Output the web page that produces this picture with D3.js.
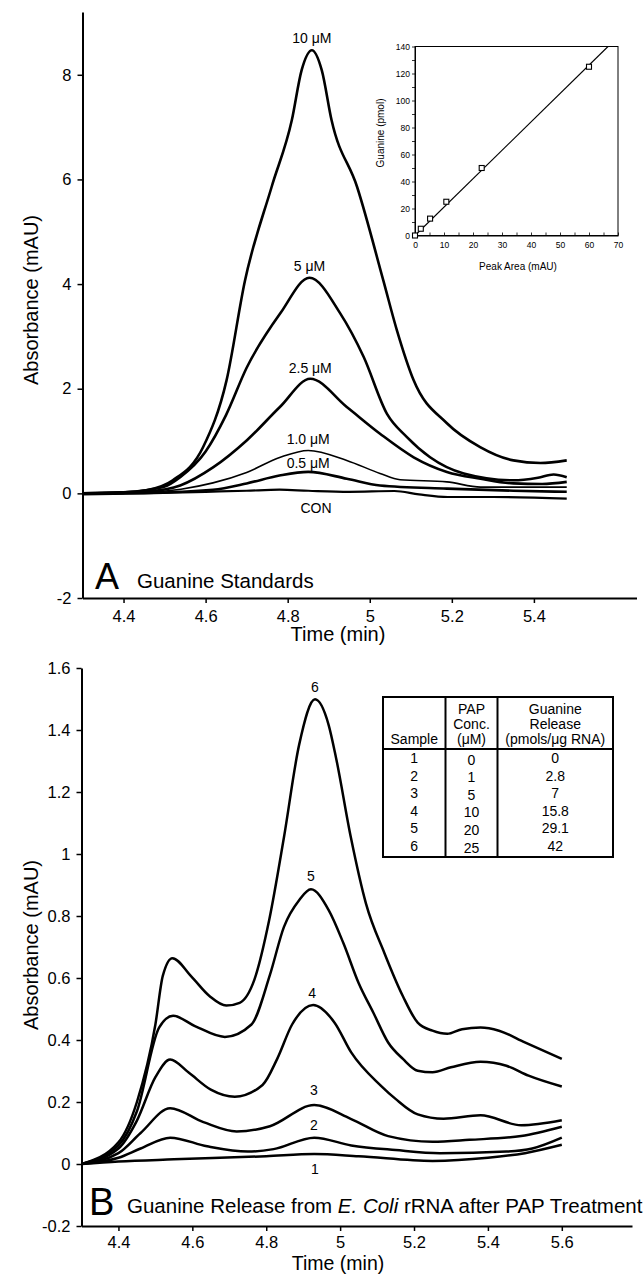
<!DOCTYPE html>
<html>
<head>
<meta charset="utf-8">
<script src="https://cdn.jsdelivr.net/npm/d3@7"></script>
<style>
  body { margin: 0; background: #fff; }
  svg { display: block; font-family: "Liberation Sans", Arial, Helvetica, sans-serif; }
</style>
</head>
<body>
<div id="chart"></div>
<script>
'use strict';

// ---- panel A: guanine standards, [time (min), absorbance (mAU)]
const std10 = [[4.30,0],[4.40,0.02],[4.456,0.06],[4.52,0.25],[4.594,0.885],[4.651,2.16],[4.696,4.07],[4.761,5.86],
  [4.81,7.13],[4.834,8.09],[4.859,8.47],[4.883,8.09],[4.907,7.13],[4.969,5.86],[5.033,4.07],[5.066,3.12],[5.107,2.16],
  [5.188,1.34],[5.269,0.885],[5.35,0.63],[5.416,0.58],[5.48,0.63]];
const std5 = [[4.30,0],[4.40,0.02],[4.497,0.12],[4.538,0.31],[4.60,0.80],[4.65,1.50],[4.70,2.40],[4.782,3.44],
  [4.853,4.12],[4.928,3.44],[4.985,2.61],[5.042,1.52],[5.09,1.08],[5.147,0.69],[5.229,0.38],[5.35,0.25],[5.41,0.30],
  [5.448,0.36],[5.48,0.31]];
const std2_5 = [[4.30,0],[4.40,0.01],[4.456,0.03],[4.538,0.15],[4.619,0.50],[4.70,1.01],[4.781,1.65],[4.855,2.19],
  [4.944,1.65],[5.025,1.14],[5.107,0.69],[5.188,0.41],[5.27,0.28],[5.35,0.19],[5.42,0.18],[5.48,0.22]];
const std1_0 = [[4.30,0],[4.45,0.02],[4.54,0.08],[4.618,0.20],[4.70,0.40],[4.782,0.69],[4.85,0.82],[4.944,0.63],
  [5.025,0.38],[5.074,0.26],[5.188,0.22],[5.27,0.12],[5.48,0.12]];
const std0_5 = [[4.30,0],[4.45,0.01],[4.618,0.07],[4.70,0.19],[4.78,0.34],[4.85,0.41],[4.944,0.28],[5.025,0.15],
  [5.188,0.09],[5.35,0.05],[5.48,0.03]];
const stdCon = [[4.30,-0.02],[4.45,0],[4.60,0.03],[4.70,0.05],[4.78,0.07],[4.85,0.05],[4.95,0.03],[5.06,0.045],
  [5.12,-0.02],[5.19,-0.07],[5.30,-0.07],[5.48,-0.10]];
const seriesA = [std10, std5, std2_5, std1_0, std0_5, stdCon];
const widthsA = [2.6, 2.6, 2.6, 1.6, 2.6, 2.2];
const labelsA = ['10 μM', '5 μM', '2.5 μM', '1.0 μM', '0.5 μM', 'CON'];
const labelPosA = [[4.859,8.71],[4.853,4.34],[4.855,2.39],[4.85,1.03],[4.85,0.58],[4.869,-0.28]];
const xTicksA = [4.4, 4.6, 4.8, 5, 5.2, 5.4];
const yTicksA = [-2, 0, 2, 4, 6, 8];

// ---- inset: calibration
const peakArea = [0, 2, 5.2, 10.8, 23, 60];
const guaninePmol = [0, 5, 12.5, 25, 50, 125];
const insetXTicks = [0, 10, 20, 30, 40, 50, 60, 70];
const insetYTicks = [0, 20, 40, 60, 80, 100, 120, 140];

// ---- panel B: guanine release from E. coli rRNA
const samp1 = [[4.30,0],[4.40,0.008],[4.55,0.015],[4.80,0.025],[4.93,0.032],[5.05,0.025],[5.25,0.01],[5.40,0.02],
  [5.50,0.035],[5.60,0.062]];
const samp2 = [[4.30,0],[4.40,0.02],[4.46,0.05],[4.54,0.085],[4.64,0.057],[4.75,0.04],[4.82,0.048],[4.93,0.085],
  [5.03,0.06],[5.15,0.045],[5.27,0.035],[5.45,0.04],[5.52,0.05],[5.60,0.085]];
const samp3 = [[4.30,0],[4.40,0.035],[4.46,0.10],[4.54,0.18],[4.63,0.135],[4.72,0.105],[4.81,0.122],[4.93,0.19],
  [5.03,0.145],[5.13,0.09],[5.25,0.072],[5.35,0.078],[5.49,0.09],[5.60,0.12]];
const samp4 = [[4.30,0],[4.40,0.05],[4.45,0.14],[4.50,0.28],[4.54,0.337],[4.59,0.295],[4.65,0.24],[4.715,0.217],
  [4.79,0.255],[4.83,0.34],[4.87,0.45],[4.927,0.513],[4.985,0.456],[5.03,0.36],[5.11,0.253],[5.15,0.21],[5.21,0.16],
  [5.28,0.146],[5.38,0.157],[5.49,0.125],[5.60,0.141]];
const samp5 = [[4.30,0],[4.40,0.06],[4.45,0.17],[4.51,0.44],[4.548,0.478],[4.607,0.445],[4.688,0.41],[4.76,0.45],
  [4.81,0.61],[4.848,0.765],[4.889,0.851],[4.921,0.886],[4.969,0.819],[5.009,0.712],[5.05,0.584],[5.09,0.488],
  [5.13,0.392],[5.17,0.339],[5.21,0.301],[5.25,0.296],[5.30,0.312],[5.38,0.33],[5.45,0.317],[5.51,0.285],[5.60,0.25]];
const samp6 = [[4.30,0],[4.40,0.07],[4.45,0.20],[4.50,0.45],[4.52,0.607],[4.546,0.664],[4.597,0.605],[4.647,0.541],
  [4.692,0.511],[4.728,0.52],[4.768,0.595],[4.808,0.787],[4.848,1.054],[4.889,1.352],[4.932,1.499],[4.969,1.416],
  [4.989,1.31],[5.029,1.054],[5.07,0.84],[5.12,0.68],[5.17,0.541],[5.21,0.456],[5.25,0.43],[5.29,0.42],[5.33,0.435],
  [5.38,0.44],[5.43,0.43],[5.50,0.392],[5.60,0.339]];
const seriesB = [samp1, samp2, samp3, samp4, samp5, samp6];
const labelsB = ['1', '2', '3', '4', '5', '6'];
const labelPosB = [[4.932,-0.018],[4.929,0.126],[4.929,0.239],[4.924,0.552],[4.921,0.929],[4.932,1.539]];
const xTicksB = [4.4, 4.6, 4.8, 5, 5.2, 5.4, 5.6];
const yTicksB = [-0.2, 0, 0.2, 0.4, 0.6, 0.8, 1, 1.2, 1.4, 1.6];

// ---- table
const tableSample = ['1', '2', '3', '4', '5', '6'];
const tablePap = ['0', '1', '5', '10', '20', '25'];
const tableRelease = ['0', '2.8', '7', '15.8', '29.1', '42'];


const W = 644, H = 1275;
const svg = d3.select('#chart').append('svg')
    .attr('width', W)
    .attr('height', H);

const fmt = d => String(d);

function styleAxis(g, fontSize){
    g.select('.domain').attr('stroke', '#000').attr('stroke-width', 2);
    g.selectAll('.tick line').attr('stroke', '#000').attr('stroke-width', 1.5);
    g.selectAll('.tick text').attr('fill', '#000').attr('font-size', fontSize)
        .attr('font-family', '"Liberation Sans", Arial, sans-serif');
}

function drawPanel(x, y, xTicks, yTicks, series, widths, xPad){
    // x axis at the bottom of the y range
    const gx = svg.append('g')
        .attr('transform', `translate(0,${y.range()[0]})`)
        .call(d3.axisBottom(x).tickValues(xTicks).tickFormat(fmt)
            .tickSize(5).tickSizeOuter(0).tickPadding(xPad));
    styleAxis(gx, 16.5);

    const gy = svg.append('g')
        .attr('transform', `translate(${x.range()[0]},0)`)
        .call(d3.axisLeft(y).tickValues(yTicks).tickFormat(fmt)
            .tickSize(5).tickSizeOuter(0).tickPadding(6));
    styleAxis(gy, 16.5);

    const line = d3.line()
        .x(d => x(d[0]))
        .y(d => y(d[1]))
        .curve(d3.curveMonotoneX);

    svg.append('g').selectAll('path')
        .data(series)
        .enter()
        .append('path')
        .attr('d', line)
        .attr('fill', 'none')
        .attr('stroke', '#000')
        .attr('stroke-width', (d, i) => widths[i])
        .attr('stroke-linejoin', 'round');
}

function curveLabels(x, y, labels, pos){
    svg.append('g').selectAll('text')
        .data(labels)
        .enter()
        .append('text')
        .attr('x', (d, i) => x(pos[i][0]))
        .attr('y', (d, i) => y(pos[i][1]))
        .attr('dy', '0.35em')
        .attr('text-anchor', 'middle')
        .attr('font-size', 14)
        .text(d => d);
}

// ================= panel A
const xA = d3.scaleLinear().domain([4.3, 5.65]).range([82.5, 636.5]);
const yA = d3.scaleLinear().domain([-2, 9.2]).range([598, 12]);
drawPanel(xA, yA, xTicksA, yTicksA, seriesA, widthsA, 7);
curveLabels(xA, yA, labelsA, labelPosA);

svg.append('text')
    .attr('transform', 'translate(38,300) rotate(-90)')
    .attr('text-anchor', 'middle')
    .attr('font-size', 20)
    .text('Absorbance (mAU)');

svg.append('text')
    .attr('x', 338).attr('y', 641)
    .attr('text-anchor', 'middle')
    .attr('font-size', 20)
    .text('Time (min)');

svg.append('text')
    .attr('x', 95).attr('y', 589)
    .attr('font-size', 36)
    .text('A');
svg.append('text')
    .attr('x', 137).attr('y', 588)
    .attr('font-size', 20.5)
    .text('Guanine Standards');

// ---- inset
const ix = d3.scaleLinear().domain([0, 70]).range([415, 618]);
const iy = d3.scaleLinear().domain([0, 140]).range([235.5, 46.5]);

svg.append('rect')
    .attr('x', ix(0)).attr('y', iy(140))
    .attr('width', ix(70) - ix(0)).attr('height', iy(0) - iy(140))
    .attr('fill', 'none').attr('stroke', '#000').attr('stroke-width', 1);

const igx = svg.append('g')
    .attr('transform', `translate(0,${iy(0)})`)
    .call(d3.axisBottom(ix).tickValues(d3.range(0, 71, 5)).tickSize(-3).tickSizeOuter(0).tickPadding(6)
        .tickFormat(d => insetXTicks.includes(d) ? String(d) : ''));
const igy = svg.append('g')
    .attr('transform', `translate(${ix(0)},0)`)
    .call(d3.axisLeft(iy).tickValues(d3.range(0, 141, 10)).tickSize(3).tickSizeOuter(0).tickPadding(2)
        .tickFormat(d => insetYTicks.includes(d) ? String(d) : ''));
[igx, igy].forEach(g => {
    g.select('.domain').attr('stroke', '#000').attr('stroke-width', 1);
    g.selectAll('.tick line').attr('stroke', '#000').attr('stroke-width', 0.8);
    g.selectAll('.tick text').attr('fill', '#000').attr('font-size', 8.5)
        .attr('font-family', '"Liberation Sans", Arial, sans-serif');
});

// least squares through origin
const slope = d3.sum(peakArea, (d, i) => d * guaninePmol[i]) / d3.sum(peakArea, d => d * d);
svg.append('line')
    .attr('x1', ix(0)).attr('y1', iy(0))
    .attr('x2', ix(140 / slope)).attr('y2', iy(140))
    .attr('stroke', '#000').attr('stroke-width', 1.1);

svg.append('g').selectAll('rect')
    .data(peakArea)
    .enter()
    .append('rect')
    .attr('x', d => ix(d) - 2.5)
    .attr('y', (d, i) => iy(guaninePmol[i]) - 2.5)
    .attr('width', 5).attr('height', 5)
    .attr('fill', '#fff').attr('stroke', '#000').attr('stroke-width', 1.1);

svg.append('text')
    .attr('transform', 'translate(384,133) rotate(-90)')
    .attr('text-anchor', 'middle')
    .attr('font-size', 10)
    .text('Guanine (pmol)');
svg.append('text')
    .attr('x', 518).attr('y', 270)
    .attr('text-anchor', 'middle')
    .attr('font-size', 10)
    .text('Peak Area (mAU)');

// ================= panel B
const xB = d3.scaleLinear().domain([4.3, 5.79]).range([81.5, 632]);
const yB = d3.scaleLinear().domain([-0.2, 1.6]).range([1226, 668]);
drawPanel(xB, yB, xTicksB, yTicksB, seriesB, seriesB.map(() => 2.5), 5);
curveLabels(xB, yB, labelsB, labelPosB);

svg.append('text')
    .attr('transform', 'translate(38,945) rotate(-90)')
    .attr('text-anchor', 'middle')
    .attr('font-size', 20)
    .text('Absorbance (mAU)');

svg.append('text')
    .attr('x', 338).attr('y', 1270)
    .attr('text-anchor', 'middle')
    .attr('font-size', 19.5)
    .text('Time (min)');

svg.append('text')
    .attr('x', 89).attr('y', 1215)
    .attr('font-size', 38)
    .text('B');
const titleB = svg.append('text')
    .attr('x', 127).attr('y', 1213)
    .attr('font-size', 20.5);
titleB.append('tspan').text('Guanine Release from ');
titleB.append('tspan').attr('font-style', 'italic').text('E. Coli');
titleB.append('tspan').text(' rRNA after PAP Treatment');

// ---- table
const tb = { x0: 383, x1: 445.5, x2: 497.5, x3: 613, y0: 697, yh: 749, y1: 857 };
const tg = svg.append('g');
tg.append('rect')
    .attr('x', tb.x0).attr('y', tb.y0)
    .attr('width', tb.x3 - tb.x0).attr('height', tb.y1 - tb.y0)
    .attr('fill', '#fff').attr('stroke', '#000').attr('stroke-width', 2);
[tb.x1, tb.x2].forEach(xv => {
    tg.append('line').attr('x1', xv).attr('x2', xv).attr('y1', tb.y0).attr('y2', tb.y1)
        .attr('stroke', '#000').attr('stroke-width', 2);
});
tg.append('line').attr('x1', tb.x0).attr('x2', tb.x3).attr('y1', tb.yh).attr('y2', tb.yh)
    .attr('stroke', '#000').attr('stroke-width', 2);

const colC = [(tb.x0 + tb.x1) / 2, (tb.x1 + tb.x2) / 2, (tb.x2 + tb.x3) / 2];
const headers = [['Sample'], ['PAP', 'Conc.', '(μM)'], ['Guanine', 'Release', '(pmols/μg RNA)']];
headers.forEach((lines, c) => {
    lines.forEach((t, k) => {
        tg.append('text')
            .attr('x', colC[c])
            .attr('y', 744 - (lines.length - 1 - k) * 15)
            .attr('text-anchor', 'middle')
            .attr('font-size', 14)
            .text(t);
    });
});
const rowY = d3.scaleLinear().domain([0, 5]).range([763, 851]);
[tableSample, tablePap, tableRelease].forEach((col, c) => {
    tg.append('g').selectAll('text')
        .data(col)
        .enter()
        .append('text')
        .attr('x', colC[c])
        .attr('y', (d, i) => rowY(i) + (c === 1 ? 1.5 : 0))
        .attr('text-anchor', 'middle')
        .attr('font-size', 14)
        .text(d => d);
});
</script>
</body>
</html>
